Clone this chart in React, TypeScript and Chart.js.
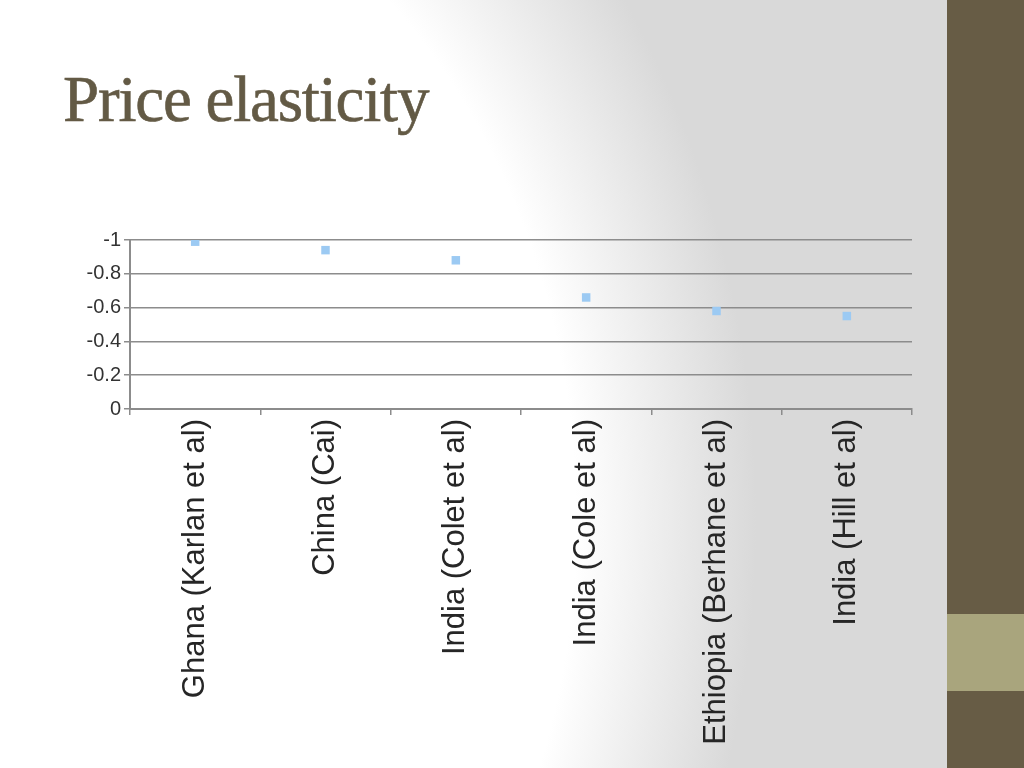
import { useEffect, useRef } from 'react'
import { Chart, registerables } from 'chart.js'

Chart.register(...registerables)

const studies = [
  'Ghana (Karlan et al)',
  'China (Cai)',
  'India (Colet et al)',
  'India (Cole et al)',
  'Ethiopia (Berhane et al)',
  'India (Hill et al)',
]
const elasticity = [-0.99, -0.94, -0.88, -0.66, -0.58, -0.55]
const yTicks = [-1, -0.8, -0.6, -0.4, -0.2, 0]

const AXIS_GREY = '#8c8c8c'
const LABEL_FONT = '"Liberation Sans", Arial, sans-serif'

function ElasticityChart() {
  const canvasRef = useRef<HTMLCanvasElement>(null)
  const chartRef = useRef<Chart | null>(null)

  useEffect(() => {
    if (!canvasRef.current) return
    if (chartRef.current) chartRef.current.destroy()

    chartRef.current = new Chart(canvasRef.current, {
      type: 'line',
      data: {
        labels: studies,
        datasets: [
          {
            data: elasticity,
            showLine: false,
            pointStyle: 'rect',
            pointRadius: 6,
            backgroundColor: '#9ccaf3',
            borderColor: '#9ccaf3',
            borderWidth: 0,
          },
        ],
      },
      options: {
        animation: false,
        responsive: true,
        maintainAspectRatio: false,
        layout: { padding: { top: 13, right: 18, left: 0, bottom: 0 } },
        plugins: {
          legend: { display: false },
          tooltip: { enabled: false },
        },
        scales: {
          x: {
            offset: true,
            grid: {
              offset: true,
              drawOnChartArea: false,
              color: AXIS_GREY,
              lineWidth: 1.5,
              tickLength: 6,
            },
            border: { color: AXIS_GREY, width: 2 },
            ticks: {
              minRotation: 90,
              maxRotation: 90,
              autoSkip: false,
              padding: 4,
              color: '#262626',
              font: { family: LABEL_FONT, size: 31 },
            },
            afterFit: (axis: any) => {
              axis.height = 356
            },
          },
          y: {
            reverse: true,
            min: -1,
            max: 0,
            afterBuildTicks: (axis: any) => {
              axis.ticks = yTicks.map((v) => ({ value: v }))
            },
            grid: {
              color: AXIS_GREY,
              lineWidth: 1.5,
              tickLength: 6,
            },
            border: { color: AXIS_GREY, width: 2 },
            ticks: {
              padding: 3,
              color: '#333333',
              font: { family: LABEL_FONT, size: 20 },
              callback: (v: any) => String(v),
            },
            afterFit: (axis: any) => {
              axis.width = 70
            },
          },
        },
      },
    })

    return () => {
      if (chartRef.current) {
        chartRef.current.destroy()
        chartRef.current = null
      }
    }
  }, [])

  return <canvas ref={canvasRef} />
}

export default function App() {
  useEffect(() => {
    document.body.style.margin = '0'
  }, [])

  return (
    <div
      style={{
        position: 'relative',
        width: 1024,
        height: 768,
        overflow: 'hidden',
        background:
          'radial-gradient(ellipse 900px 1100px at 0px 520px, #ffffff 64%, #d9d9d9 84%)',
      }}
    >
      <div
        style={{
          position: 'absolute',
          left: 63,
          top: 67,
          fontFamily: '"Liberation Serif", "DejaVu Serif", serif',
          fontSize: 65,
          letterSpacing: -1.2,
          color: '#635a45',
          lineHeight: 1,
          WebkitTextStroke: '0.6px #635a45',
        }}
      >
        Price elasticity
      </div>
      <div style={{ position: 'absolute', left: 60, top: 225, width: 870, height: 540 }}>
        <ElasticityChart />
      </div>
      <div
        style={{
          position: 'absolute',
          left: 947,
          top: 0,
          width: 77,
          height: 768,
          background: '#675c45',
        }}
      />
      <div
        style={{
          position: 'absolute',
          left: 947,
          top: 614,
          width: 77,
          height: 77,
          background: '#a9a57d',
        }}
      />
    </div>
  )
}
